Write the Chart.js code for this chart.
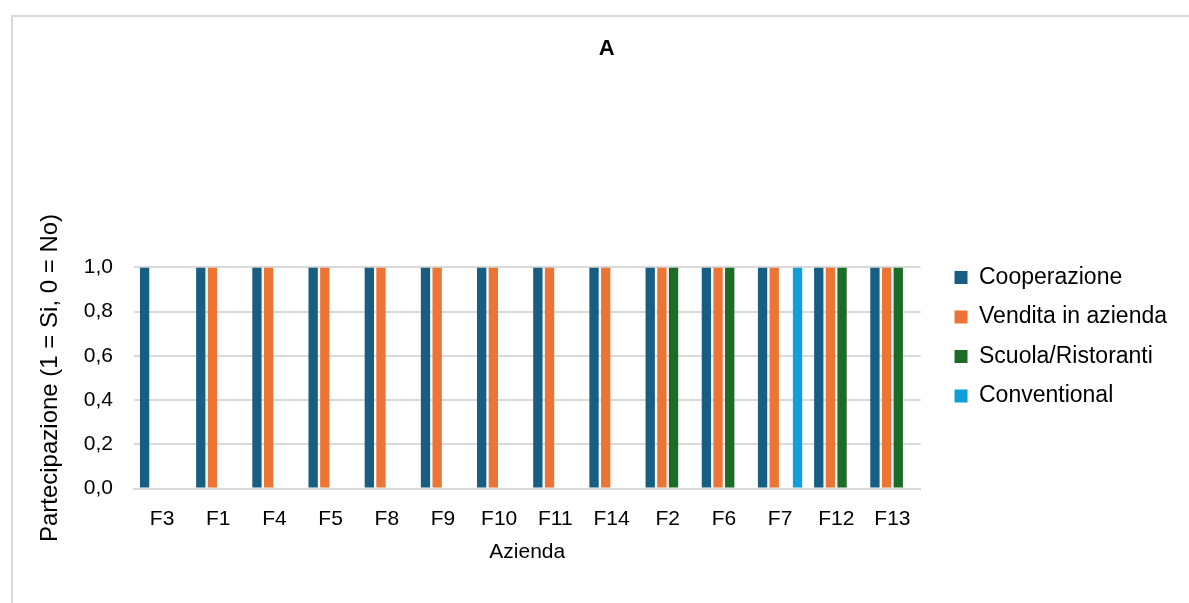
<!DOCTYPE html>
<html>
<head>
<meta charset="utf-8">
<script src="https://cdn.jsdelivr.net/npm/chart.js@4.4.1/dist/chart.umd.min.js"></script>
<style>
  html, body { margin: 0; padding: 0; background: #fff; overflow: hidden; }
  #frame {
    position: absolute; left: 11px; top: 15px; width: 1300px; height: 700px;
    border-left: 2px solid #d9d9d9; border-top: 2px solid #d9d9d9;
  }
  #wrap { position: absolute; left: 0; top: 0; width: 1189px; height: 603px; }
</style>
</head>
<body>
<div id="frame"></div>
<div id="wrap"><canvas id="chart"></canvas></div>
<script>
const aziende = ['F3', 'F1', 'F4', 'F5', 'F8', 'F9', 'F10', 'F11', 'F14', 'F2', 'F6', 'F7', 'F12', 'F13'];
const cooperazione = [1, 1, 1, 1, 1, 1, 1, 1, 1, 1, 1, 1, 1, 1];
const venditaAzienda = [0, 1, 1, 1, 1, 1, 1, 1, 1, 1, 1, 1, 1, 1];
const scuolaRistoranti = [0, 0, 0, 0, 0, 0, 0, 0, 0, 1, 1, 0, 1, 1];
const conventional = [0, 0, 0, 0, 0, 0, 0, 0, 0, 0, 0, 1, 0, 0];

const font = 'Liberation Sans, Arial, sans-serif';

const ctx = document.getElementById('chart').getContext('2d');

const data = {
    labels: aziende,
    datasets: [
        { label: 'Cooperazione', data: cooperazione, backgroundColor: '#175e82' },
        { label: 'Vendita in azienda', data: venditaAzienda, backgroundColor: '#ec7434' },
        { label: 'Scuola/Ristoranti', data: scuolaRistoranti, backgroundColor: '#1c6b26' },
        { label: 'Conventional', data: conventional, backgroundColor: '#109fd8' }
    ]
};

// move the legend a bit up (level with the top gridline) and right (gap from the plot),
// and centre the title on the whole frame rather than the padded area
const nudge = {
    id: 'nudge',
    afterLayout(chart) {
        const lg = chart.legend;
        lg.top -= 18;
        lg.bottom -= 18;
        lg.left += 17.5;
        lg.right += 17.5;
        const tb = chart.titleBlock;
        tb.left += 9;
        tb.right += 9;
    }
};

const config = {
    type: 'bar',
    data: data,
    plugins: [nudge],
    options: {
        responsive: true,
        maintainAspectRatio: false,
        animation: false,
        datasets: {
            bar: { categoryPercentage: 0.83, barPercentage: 0.8, borderWidth: 0 }
        },
        layout: { padding: { left: 36, right: 29.5, top: 36, bottom: 38 } },
        plugins: {
            title: {
                display: true,
                text: 'A',
                color: '#000',
                font: { family: font, size: 22, weight: 'bold' },
                padding: { top: 0, bottom: 205 }
            },
            legend: {
                position: 'right',
                align: 'start',
                fullSize: false,
                labels: {
                    color: '#000',
                    font: { family: font, size: 23 },
                    boxWidth: 13,
                    boxHeight: 13,
                    padding: 16.5
                }
            },
            tooltip: { enabled: false }
        },
        scales: {
            x: {
                grid: { display: false },
                border: { color: '#d9d9d9', width: 2 },
                ticks: { color: '#000', font: { family: font, size: 21 }, padding: 10, maxRotation: 0 },
                title: {
                    display: true, text: 'Azienda', color: '#000',
                    font: { family: font, size: 21 }, padding: { top: -2, bottom: 0 }
                }
            },
            y: {
                min: 0,
                max: 1,
                border: { display: false },
                grid: {
                    drawTicks: false,
                    color: c => (c.index % 2 === 0 ? '#d9d9d9' : '#f0f0f0'),
                    lineWidth: c => (c.index % 2 === 0 ? 2 : 1.5)
                },
                ticks: {
                    stepSize: 0.1,
                    color: '#000',
                    font: { family: font, size: 21 },
                    padding: 21,
                    callback: (v, i) => (i % 2 === 0 ? v.toFixed(1).replace('.', ',') : '')
                },
                title: {
                    display: true, text: 'Partecipazione (1 = Si, 0 = No)', color: '#000',
                    font: { family: font, size: 24 }, padding: { top: 0, bottom: -2 }
                }
            }
        }
    }
};

const chart = new Chart(ctx, config);
</script>
</body>
</html>
